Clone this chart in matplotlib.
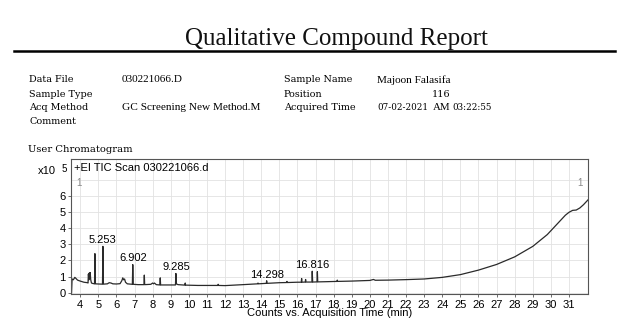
import matplotlib
matplotlib.use("Agg")
import matplotlib.pyplot as plt

# chromatogram trace, time in min, counts in x10^5
rt = [3.52, 3.55, 3.62, 3.70, 3.75, 3.85, 4.00, 4.20, 4.40,
      4.43, 4.45, 4.48, 4.50, 4.53, 4.55, 4.58, 4.62, 4.70,
      4.79, 4.81, 4.83, 5.00, 5.23, 5.253, 5.28,
      5.50, 5.60, 5.70, 5.80, 6.00, 6.20, 6.30, 6.35, 6.40, 6.45, 6.50, 6.60,
      6.88, 6.902, 6.93, 7.20, 7.52, 7.54, 7.56,
      7.90, 8.00, 8.05, 8.10, 8.20, 8.40, 8.42, 8.44, 9.00,
      9.26, 9.285, 9.31, 9.40, 9.78, 9.80, 9.82, 10.5,
      11.0, 11.6, 11.62, 11.64, 12.0, 13.0, 13.8, 13.82, 13.84,
      14.28, 14.298, 14.32, 15.0, 15.4, 15.42, 15.44, 16.0,
      16.21, 16.23, 16.25, 16.43, 16.45, 16.47,
      16.80, 16.816, 16.84, 17.08, 17.10, 17.12, 17.5,
      18.18, 18.20, 18.22, 19.0, 20.0, 20.2, 20.3,
      21.0, 22.0, 23.0, 24.0, 25.0, 26.0, 27.0, 28.0, 29.0, 29.8,
      30.5, 30.8, 31.0, 31.2, 31.4, 31.6, 31.8, 32.05]
counts = [0.0, 0.85, 0.80, 0.95, 0.90, 0.78, 0.72, 0.65, 0.62,
          0.60, 1.15, 0.80, 1.22, 0.90, 1.25, 0.80, 0.60, 0.57,
          0.55, 2.42, 0.55, 0.54, 0.53, 2.87, 0.53,
          0.55, 0.62, 0.60, 0.55, 0.54, 0.56, 0.75, 0.92, 0.80, 0.85, 0.65, 0.55,
          0.52, 1.74, 0.52, 0.50, 0.50, 1.09, 0.50,
          0.52, 0.60, 0.55, 0.60, 0.50, 0.48, 0.92, 0.48, 0.48,
          0.48, 1.19, 0.55, 0.50, 0.47, 0.60, 0.47, 0.45,
          0.45, 0.45, 0.52, 0.45, 0.44, 0.50, 0.55, 0.60, 0.55,
          0.58, 0.74, 0.58, 0.62, 0.63, 0.70, 0.63, 0.65,
          0.65, 0.88, 0.65, 0.66, 0.82, 0.66,
          0.66, 1.33, 0.66, 0.67, 1.30, 0.67, 0.68,
          0.70, 0.78, 0.70, 0.72, 0.76, 0.82, 0.77,
          0.78, 0.81, 0.85, 0.95, 1.12, 1.40, 1.75, 2.22, 2.87, 3.60,
          4.44, 4.80, 4.98, 5.10, 5.12, 5.25, 5.45, 5.75]

# labelled peaks
peak_rt = [5.253, 6.902, 9.285, 14.298, 16.816]
peak_top = [2.87, 1.74, 1.19, 0.74, 1.33]
peak_label = ["5.253", "6.902", "9.285", "14.298", "16.816"]

info_left = [("Data File", "030221066.D"), ("Sample Type", ""),
             ("Acq Method", "GC Screening New Method.M"), ("Comment", "")]
info_right = [("Sample Name", "Majoon Falasifa"), ("Position", ""),
              ("Acquired Time", "")]

W, H = 635, 333


def fx(px):
    return px / W


def fy(py):
    return 1 - py / H


fig = plt.figure(figsize=(6.35, 3.33), dpi=100)
fig.patch.set_facecolor("white")

# header
fig.text(fx(336.5), fy(39), "Qualitative Compound Report", family="Liberation Serif",
         fontsize=18, ha="center", va="center", color="#111111")
fig.add_artist(plt.Line2D([fx(14), fx(615)], [fy(50.7), fy(50.7)], color="black", lw=1.8))

rows = [80, 94, 108, 121]
for (lab, val), y in zip(info_left, rows):
    fig.text(fx(29), fy(y), lab, family="DejaVu Serif", fontsize=6.9, va="center")
    if val:
        fig.text(fx(121.5), fy(y), val, family="Liberation Serif", fontsize=8.1, va="center")
for (lab, val), y in zip(info_right, rows):
    fig.text(fx(284), fy(y), lab, family="DejaVu Serif", fontsize=6.9, va="center")
    if val:
        fig.text(fx(377), fy(y), val, family="Liberation Serif", fontsize=8.1, va="center")
fig.text(fx(441), fy(94), "116", family="DejaVu Serif", fontsize=6.9, ha="center", va="center")
fig.text(fx(377), fy(108), "07-02-2021", family="DejaVu Serif", fontsize=6.3, va="center")
fig.text(fx(432.5), fy(108), "AM", family="Liberation Serif", fontsize=7.8, va="center")
fig.text(fx(452), fy(108), "03:22:55", family="DejaVu Serif", fontsize=6.3, va="center")

fig.text(fx(28), fy(149), "User Chromatogram", family="DejaVu Serif", fontsize=7.2, va="center")

# chromatogram
ax = fig.add_axes([fx(71), fy(294), fx(588) - fx(71), fy(158.7) - fy(294)])
ax.plot(rt, counts, color="#2a2a2a", lw=0.9)
ax.set_xlim(3.49, 32.05)
ax.set_ylim(-0.08, 8.3)
ax.set_xticks(range(4, 32))
ax.set_yticks(range(0, 7))
ax.set_yticks([7], minor=True)
ax.grid(True, which="both", color="#e2e2e2", lw=0.6)
ax.set_axisbelow(True)
for s in ax.spines.values():
    s.set_color("#555555")
    s.set_linewidth(0.8)
ax.tick_params(length=2.5, width=0.6, color="#555555", pad=1.5, labelsize=8)
ax.tick_params(which="minor", length=0)
for t in ax.get_xticklabels() + ax.get_yticklabels():
    t.set_family("Liberation Sans")
ax.set_xlabel("Counts vs. Acquisition Time (min)", family="Liberation Sans",
              fontsize=8, labelpad=-1)

for x, y, s in zip(peak_rt, peak_top, peak_label):
    ax.annotate(s, (x, y), xytext=(0, 4.5), textcoords="offset points",
                ha="center", va="center", family="Liberation Sans", fontsize=8)

ax.text(0.005, 0.93, "+EI TIC Scan 030221066.d", transform=ax.transAxes,
        family="Liberation Sans", fontsize=8, va="center", ha="left")
ax.text(0.01, 0.82, "1", transform=ax.transAxes, family="Liberation Sans",
        fontsize=7, color="#888888", va="center")
ax.text(0.99, 0.82, "1", transform=ax.transAxes, family="Liberation Sans",
        fontsize=7, color="#888888", va="center", ha="right")
fig.text(fx(38), fy(171), "x10", family="Liberation Sans", fontsize=8, va="center")
fig.text(fx(62), fy(168.5), "5", family="Liberation Sans", fontsize=7, va="center")

fig.savefig("out.png", dpi=100)
